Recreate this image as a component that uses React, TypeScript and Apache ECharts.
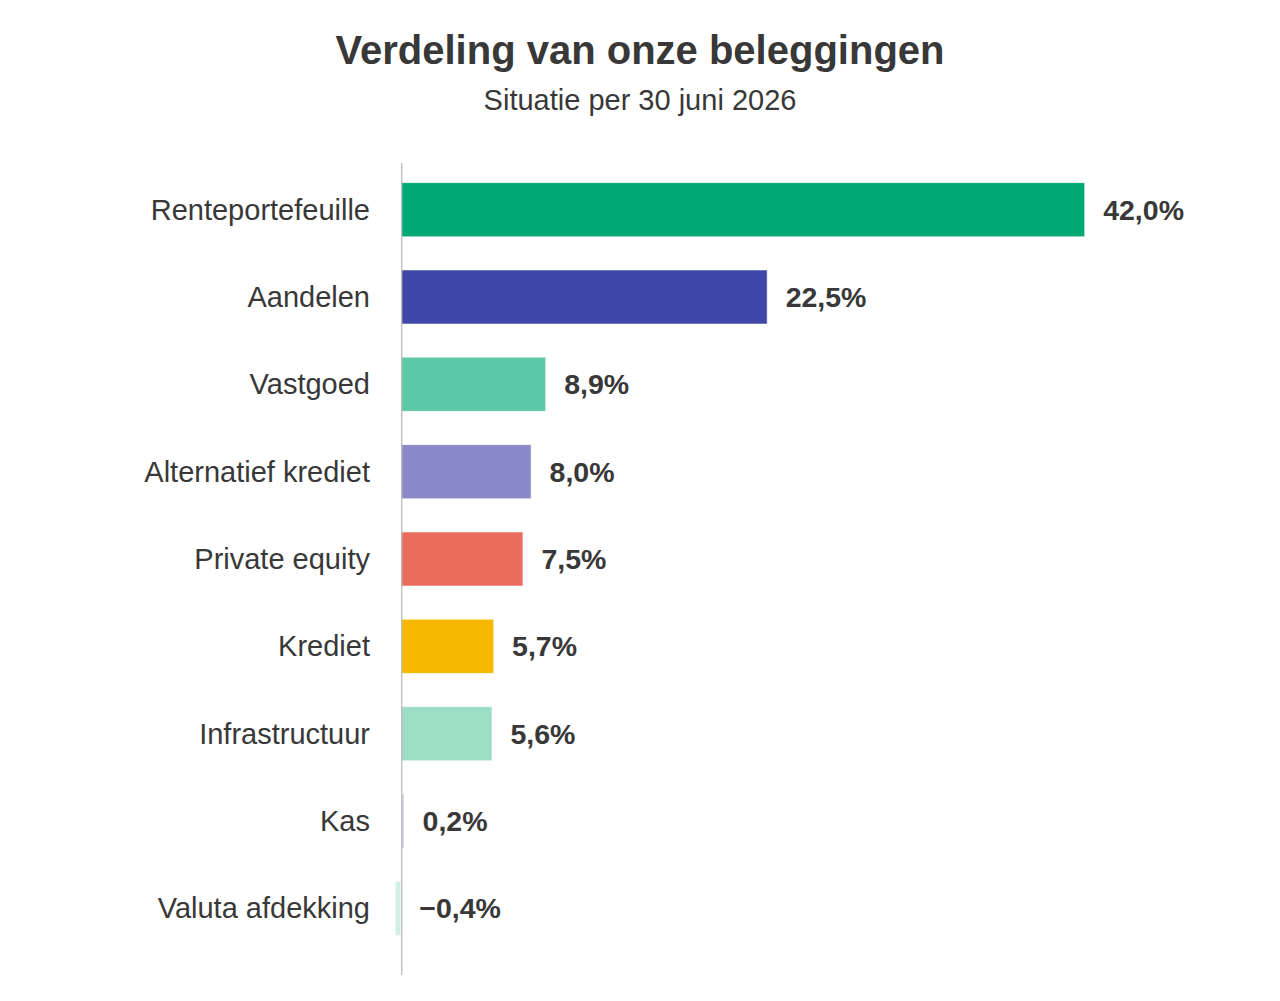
import React, { useEffect, useRef } from 'react';
import * as echarts from 'echarts';

const categories = [
  'Renteportefeuille',
  'Aandelen',
  'Vastgoed',
  'Alternatief krediet',
  'Private equity',
  'Krediet',
  'Infrastructuur',
  'Kas',
  'Valuta afdekking',
];

const shares = [42.0, 22.5, 8.9, 8.0, 7.5, 5.7, 5.6, 0.2, -0.4];

const barColors = [
  '#00A874',
  '#3F48A8',
  '#5CC9A6',
  '#878AC7',
  '#EC6D5D',
  '#F7B800',
  '#9CDDC6',
  '#CDD0EC',
  '#D2F0E5',
];

const FONT = '"Liberation Sans", Arial, sans-serif';

// 42,0% / −0,4%
const formatShare = (v: number) => {
  const s = Math.abs(v).toFixed(1).replace('.', ',');
  return (v < 0 ? '\u2212' : '') + s + '%';
};

const App: React.FC = () => {
  const chartRef = useRef<HTMLDivElement>(null);

  useEffect(() => {
    if (!chartRef.current) return;
    const chart = echarts.init(chartRef.current, undefined, { renderer: 'svg' });

    const option = {
      animation: false,
      backgroundColor: '#fff',
      title: {
        text: 'Verdeling van onze beleggingen',
        subtext: 'Situatie per 30 juni 2026',
        left: 'center',
        top: 25,
        itemGap: 15,
        textStyle: {
          fontFamily: FONT,
          fontSize: 40,
          fontWeight: 'bold',
          color: '#383838',
        },
        subtextStyle: {
          fontFamily: FONT,
          fontSize: 29,
          color: '#383838',
        },
      },
      grid: {
        left: 385,
        right: 129.7,
        top: 166,
        bottom: 49,
      },
      xAxis: {
        type: 'value',
        min: -1,
        max: 46,
        show: false,
        splitLine: { show: false },
      },
      yAxis: {
        type: 'category',
        inverse: true,
        data: categories,
        axisLine: { show: false },
        axisTick: { show: false },
        axisLabel: {
          fontFamily: FONT,
          fontSize: 29,
          color: '#383838',
          margin: 15,
        },
      },
      series: [
        {
          type: 'bar',
          barWidth: 55,
          data: shares.map((v, i) => ({
            value: v,
            itemStyle: {
              color: barColors[i],
              borderColor: 'rgba(255,255,255,0.5)',
              borderWidth: 1,
            },
          })),
          label: {
            show: true,
            position: 'right',
            distance: 18,
            fontFamily: FONT,
            fontSize: 28.5,
            fontWeight: 'bold',
            color: '#383838',
            formatter: (p: any) => formatShare(p.value),
          },
        },
      ],
    };

    chart.setOption(option);

    // vertical zero line, a bit longer than the plot area
    const x0 = chart.convertToPixel({ xAxisIndex: 0 }, 0) as number;
    chart.setOption({
      graphic: [
        {
          type: 'line',
          z: 10,
          shape: { x1: x0 + 0.5, y1: 163, x2: x0 + 0.5, y2: 975 },
          style: { stroke: '#A8A8A8', lineWidth: 1 },
        },
      ],
    });

    return () => {
      chart.dispose();
    };
  }, []);

  return (
    <div
      ref={chartRef}
      style={{
        position: 'fixed',
        left: 0,
        top: 0,
        width: '1280px',
        height: '1001px',
      }}
    />
  );
};

export default App;
